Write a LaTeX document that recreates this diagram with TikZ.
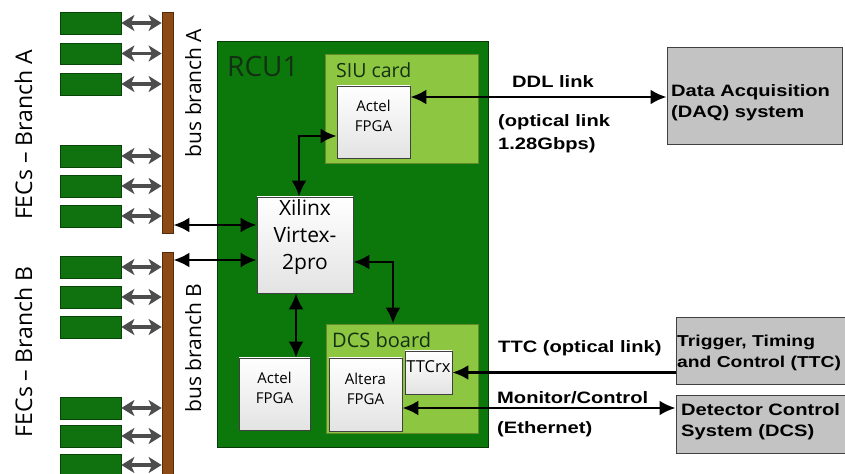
\documentclass[tikz,border=0pt]{standalone}
\usepackage{fontspec}
\setmainfont{Open Sans}
\newfontfamily\labfont[FakeStretch=1.22]{Liberation Sans}
\usetikzlibrary{arrows.meta,fit,calc}
\definecolor{fecgreen}{HTML}{0F720F}
\definecolor{rcugreen}{HTML}{0C780C}
\definecolor{lightgr}{HTML}{8DC641}
\definecolor{busbrown}{HTML}{8B4A16}
\definecolor{boxgray}{HTML}{C3C3C3}
\definecolor{arrgray}{HTML}{4D4D4D}
\definecolor{darktext}{HTML}{143014}
\begin{document}
\begin{tikzpicture}[x=1bp,y=-1bp,
  box/.style={rectangle, inner sep=0pt, fit={#1}},
  fec/.style={box={#1}, fill=fecgreen, draw=fecgreen!60!black, line width=0.8bp},
  busbar/.style={box={#1}, fill=busbrown, draw=busbrown!60!black, line width=0.8bp},
  rcubox/.style={box={#1}, fill=rcugreen, draw=rcugreen!50!black, line width=1bp},
  lgbox/.style={box={#1}, fill=lightgr, draw=lightgr!70!black, line width=0.8bp},
  chip/.style={box={#1}, top color=white, bottom color=gray!22, draw=gray!50!black, line width=0.8bp, align=center},
  sysbox/.style={box={#1}, fill=boxgray, draw=black!75, line width=1bp},
  fecarr/.style={draw=arrgray, line width=3.2bp, {Stealth[length=13bp,width=16bp,inset=3.5bp]}-{Stealth[length=13bp,width=16bp,inset=3.5bp]}},
  biarr/.style={draw=black, line width=2.6bp, {Latex[length=16bp,width=15bp]}-{Latex[length=16bp,width=15bp]}},
  onearr/.style={draw=black, line width=2.6bp, -{Latex[length=16bp,width=15bp]}},
  lab/.style={font=\labfont\bfseries\fontsize{16.5bp}{20bp}\selectfont, inner sep=0pt, anchor=base west},
  labs/.style={font=\labfont\bfseries\fontsize{15.8bp}{20bp}\selectfont, inner sep=0pt, anchor=base west},
]
\useasboundingbox (0,0) rectangle (845,474);
\fill[white] (0,0) rectangle (845,474);

% FEC boards branch A
\node[fec={(60,12) (121,34)}] (fa1) {};
\node[fec={(60,43) (121,64)}] (fa2) {};
\node[fec={(60,73) (121,95)}] (fa3) {};
\node[fec={(60,145) (121,167)}] (fa4) {};
\node[fec={(60,175) (121,197)}] (fa5) {};
\node[fec={(60,205) (121,227)}] (fa6) {};
% FEC boards branch B
\node[fec={(60,256) (121,278)}] (fb1) {};
\node[fec={(60,286) (121,308)}] (fb2) {};
\node[fec={(60,316) (121,338)}] (fb3) {};
\node[fec={(60,397) (121,419)}] (fb4) {};
\node[fec={(60,425) (121,447)}] (fb5) {};
\node[fec={(60,454) (121,476)}] (fb6) {};

% bus bars
\node[busbar={(162,12) (173,233)}] (busA) {};
\node[busbar={(162,252) (173,480)}] (busB) {};

\foreach \n in {fa1,fa2,fa3,fa4,fa5,fa6}
  \draw[fecarr] (\n.east) -- (\n.east -| busA.west);
\foreach \n in {fb1,fb2,fb3,fb4,fb5,fb6}
  \draw[fecarr] (\n.east) -- (\n.east -| busB.west);

% side texts
\node[rotate=90, anchor=base, inner sep=0pt, font=\fontsize{23bp}{26bp}\selectfont] (tfa) at (32,135) {FECs – Branch A};
\node[rotate=90, anchor=base, inner sep=0pt, font=\fontsize{23bp}{26bp}\selectfont] (tfb) at (32,352) {FECs – Branch B};
\node[rotate=90, anchor=base, inner sep=0pt, font=\fontsize{21bp}{24bp}\selectfont] (tba) at (201,93) {bus branch A};
\node[rotate=90, anchor=base, inner sep=0pt, font=\fontsize{21bp}{24bp}\selectfont] (tbb) at (201,348) {bus branch B};

% RCU
\node[rcubox={(217,42) (488,447)}] (rcu) {};
\node[anchor=base west, inner sep=0pt, text=darktext, font=\fontsize{28bp}{30bp}\selectfont] (rcut) at (227,77) {RCU1};

% SIU card
\node[lgbox={(325,54) (478,163)}] (siu) {};
\node[anchor=base west, inner sep=0pt, text=darktext, font=\fontsize{19.5bp}{22bp}\selectfont] (siut) at (336,78) {SIU card};
\node[chip={(337,86) (410,158)}, font=\fontsize{15bp}{20bp}\selectfont] (siuA) {Actel\\FPGA};

% Xilinx
\node[chip={(257,197) (353,293)}, font=\fontsize{21bp}{27bp}\selectfont] (xil) {Xilinx\\Virtex-\\2pro};

% DCS board
\node[lgbox={(326,324) (478,433)}] (dcsb) {};
\node[anchor=base west, inner sep=0pt, text=darktext, font=\fontsize{20bp}{22bp}\selectfont] (dcsbt) at (332,348) {DCS board};
\node[chip={(329,358) (402,431)}, font=\fontsize{15bp}{20bp}\selectfont] (alt) {Altera\\FPGA};
\node[chip={(405,351) (452,394)}, font=\fontsize{16.5bp}{20bp}\selectfont] (ttcrx) {TTCrx};

% lower Actel
\node[chip={(239,358) (310,430)}, font=\fontsize{15bp}{20bp}\selectfont] (act2) {Actel\\FPGA};

% external systems
\node[sysbox={(667,48) (842,145)}] (daq) {};
\node[sysbox={(676,318) (846,384)}] (ttc) {};
\node[sysbox={(676,395) (846,453)}] (dcs) {};
\node[lab] (daqt1) at (671,97) {Data Acquisition};
\node[lab] (daqt2) at (671,118) {(DAQ) system};
\node[labs] (ttct1) at (677,347) {Trigger, Timing};
\node[labs] (ttct2) at (677,368) {and Control (TTC)};
\node[lab] (dcst1) at (681,415) {Detector Control};
\node[lab] (dcst2) at (681,436) {System (DCS)};

% link labels
\node[lab] (l1) at (512,88) {DDL link};
\node[lab] (l2) at (498,127) {(optical link};
\node[lab] (l3) at (498,150) {1.28Gbps)};
\node[lab] (l4) at (498,353) {TTC (optical link)};
\node[lab] (l5) at (497,403) {Monitor/Control};
\node[lab] (l6) at (497,433) {(Ethernet)};

% connectors
\coordinate (xa) at (240,225);
\coordinate (xb) at (240,260);
\coordinate (c1) at (299,136);
\coordinate (c2) at (393,262);
\coordinate (c3) at (296,300);
\coordinate (ddl) at (500,97);
\coordinate (mon) at (500,408);

\draw[biarr] (xa -| busA.east) -- (xa -| xil.west);
\draw[biarr] (xb -| busB.east) -- (xb -| xil.west);
\draw[biarr] (c1 |- xil.north) -- (c1) -- (c1 -| siuA.west);
\draw[biarr] (c2 -| xil.east) -- (c2) -- (c2 |- dcsb.north);
\draw[biarr] (c3 |- xil.south) -- (c3 |- act2.north);
\draw[biarr] (ddl -| siuA.east) -- (ddl -| daq.west);
\draw[onearr] (ttcrx.east -| ttc.west) -- (ttcrx.east);
\draw[biarr] (mon -| alt.east) -- (mon -| dcs.west);
\end{tikzpicture}
\end{document}
